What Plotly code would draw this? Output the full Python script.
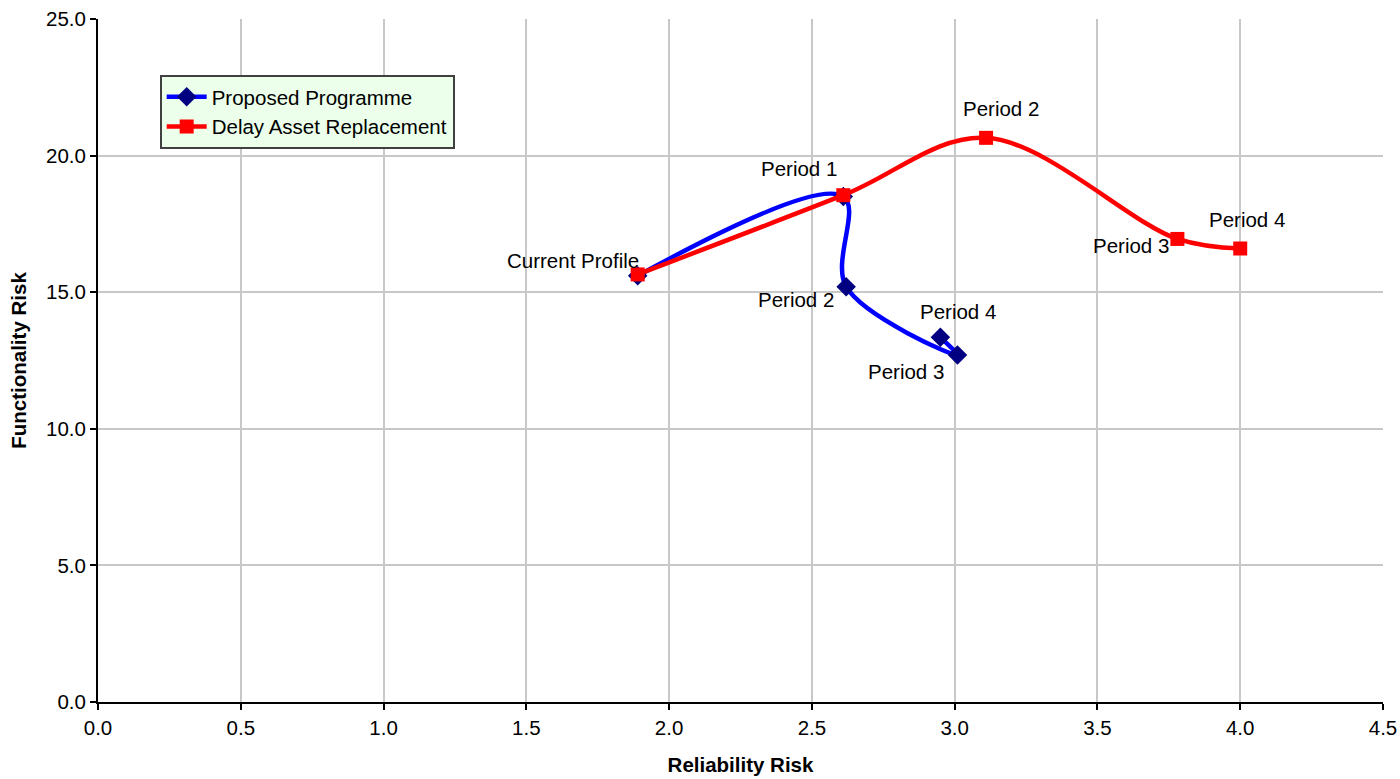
import plotly.graph_objects as go

# Data
labels = ["Current Profile", "Period 1", "Period 2", "Period 3", "Period 4"]
prop_x = [1.89, 2.61, 2.62, 3.01, 2.95]
prop_y = [15.6, 18.5, 15.2, 12.7, 13.35]
delay_x = [1.89, 2.61, 3.11, 3.78, 4.00]
delay_y = [15.65, 18.55, 20.65, 16.95, 16.6]

FONT = "Liberation Sans, Arial, sans-serif"
FS = 20.5

fig = go.Figure()
fig.add_trace(go.Scatter(
    x=prop_x, y=prop_y, mode="lines+markers", name="Proposed Programme",
    line=dict(color="#0000FF", width=4.5, shape="spline", smoothing=1),
    marker=dict(symbol="diamond", size=15, color="#000080"),
))
fig.add_trace(go.Scatter(
    x=delay_x, y=delay_y, mode="lines+markers", name="Delay Asset Replacement",
    line=dict(color="#FF0000", width=4.5, shape="spline", smoothing=1),
    marker=dict(symbol="square", size=14, color="#FF0000"),
))

# label placement (pixel offsets), style only
delay_offsets = [(-65, -14), (-44, -27), (15, -29), (-46, 7), (7, -29)]
prop_offsets = [None, None, (-50, 13), (-52, 16), (18, -26)]
for i, lab in enumerate(labels):
    dx, dy = delay_offsets[i]
    fig.add_annotation(x=delay_x[i], y=delay_y[i], text=lab, showarrow=False,
                       xshift=dx, yshift=-dy, font=dict(family=FONT, size=FS, color="black"))
for i, lab in enumerate(labels):
    if prop_offsets[i] is None:
        continue
    dx, dy = prop_offsets[i]
    fig.add_annotation(x=prop_x[i], y=prop_y[i], text=lab, showarrow=False,
                       xshift=dx, yshift=-dy, font=dict(family=FONT, size=FS, color="black"))

fig.update_layout(
    width=1400, height=779,
    margin=dict(l=98, r=17, t=19, b=77, autoexpand=False),
    paper_bgcolor="white", plot_bgcolor="white",
    font=dict(family=FONT, size=FS, color="black"),
    legend=dict(x=0.048, y=0.918, xanchor="left", yanchor="top",
                bgcolor="#EBFFEB", bordercolor="#404040", borderwidth=2,
                font=dict(family=FONT, size=FS, color="black"),
                tracegroupgap=0, itemwidth=40),
    showlegend=True,
)
fig.update_xaxes(
    range=[0, 4.5], dtick=0.5, tick0=0, tickformat=".1f", automargin=False,
    showgrid=True, gridcolor="#C8C8C8", gridwidth=1.5,
    showline=True, linecolor="black", linewidth=2,
    ticks="outside", ticklen=6, tickcolor="black", tickwidth=1.5,
    zeroline=False,
    title=dict(text="<b>Reliability Risk</b>", font=dict(family=FONT, size=FS), standoff=20),
)
fig.update_yaxes(
    range=[0, 25], dtick=5, tick0=0, tickformat=".1f", automargin=False,
    showgrid=True, gridcolor="#C8C8C8", gridwidth=1.5,
    showline=True, linecolor="black", linewidth=2,
    ticks="outside", ticklen=6, tickcolor="black", tickwidth=1.5,
    zeroline=False,
    title=dict(text="<b>Functionality Risk</b>", font=dict(family=FONT, size=FS), standoff=14),
)

fig.write_html("out.html", config={"displayModeBar": False},
               post_script="document.body.style.margin='0px';")
